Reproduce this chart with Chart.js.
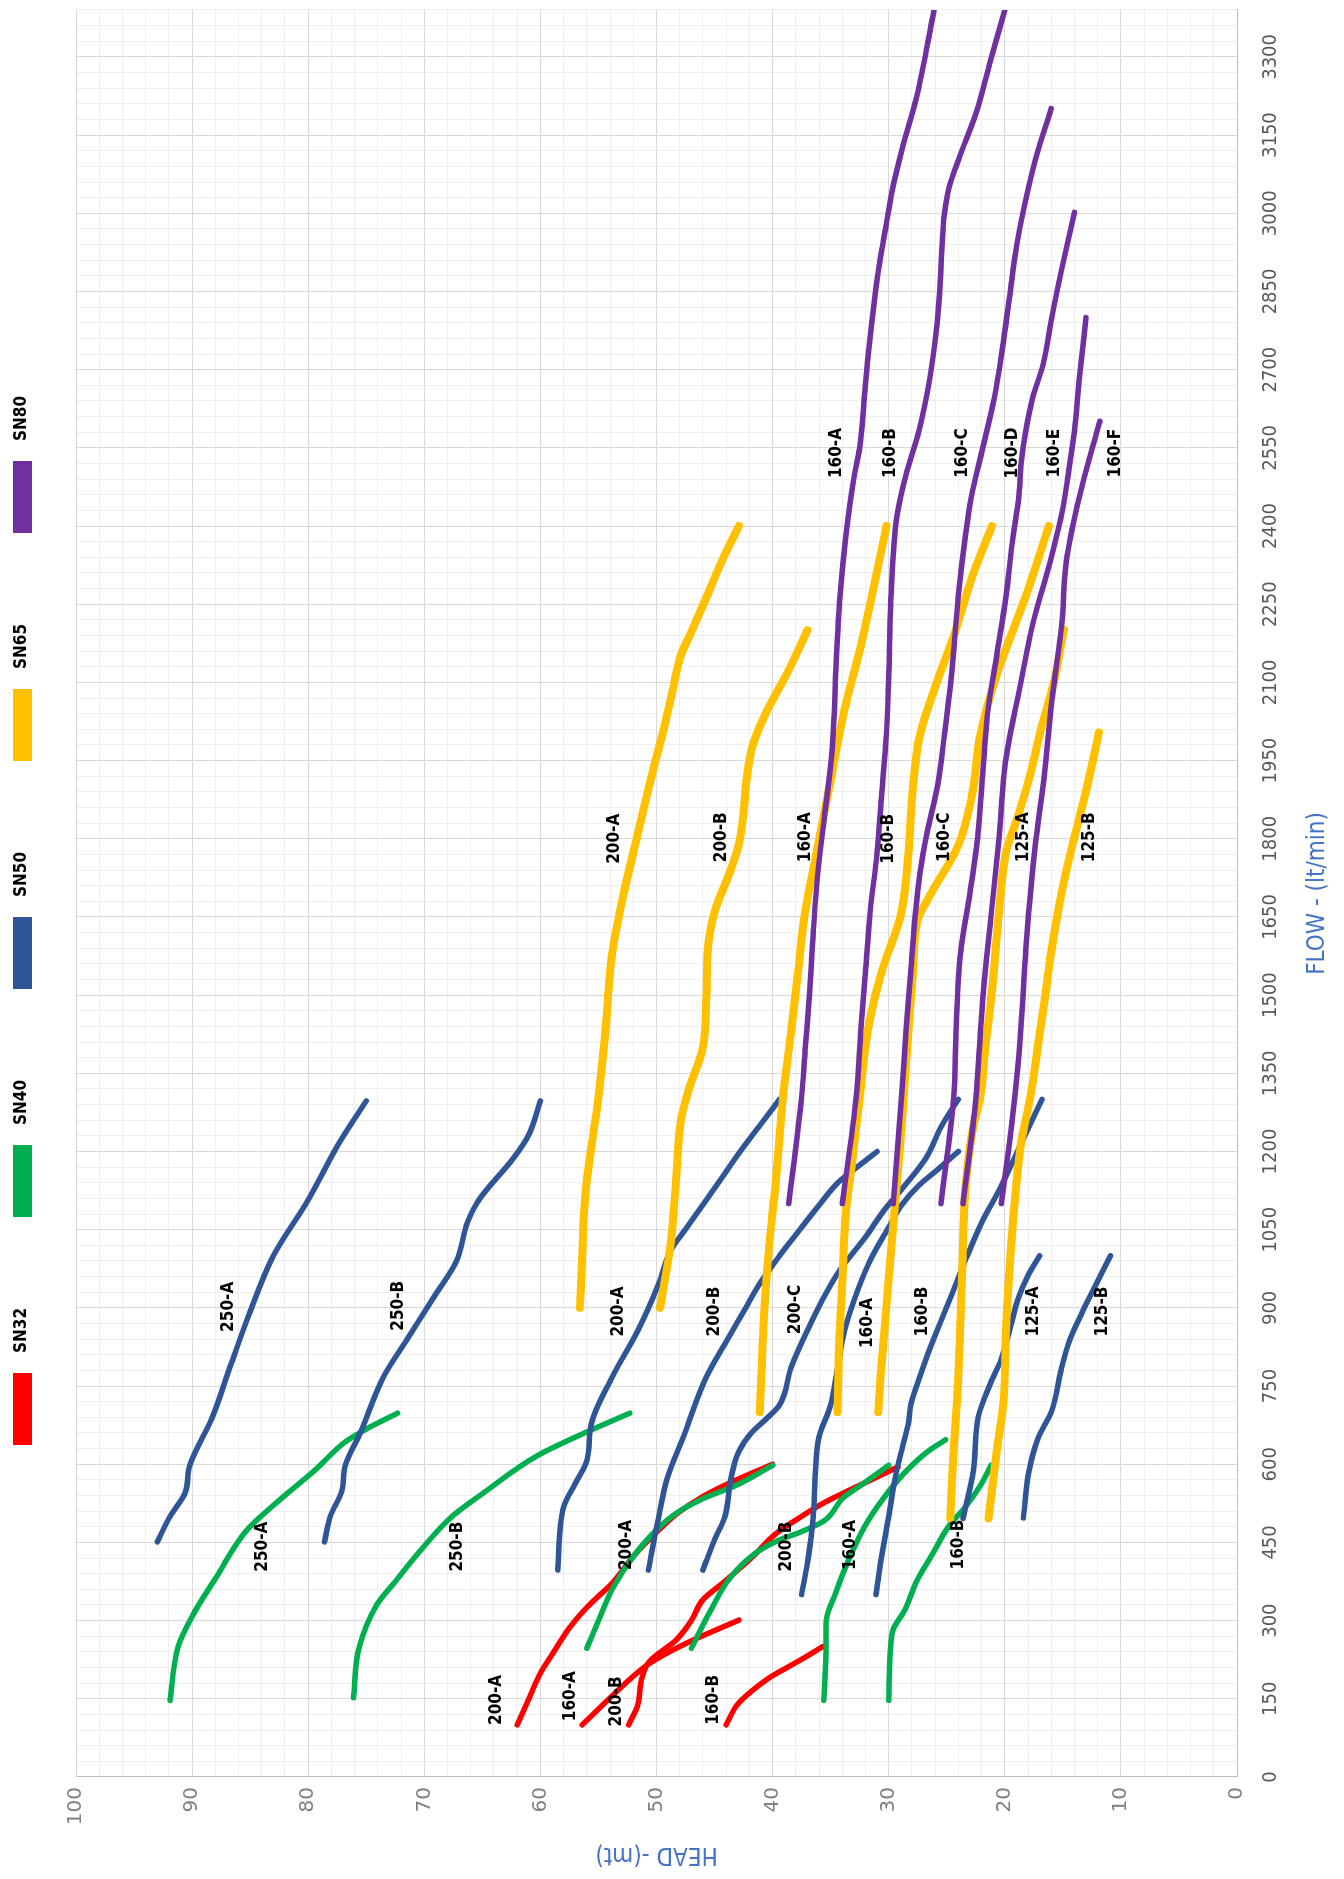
<!DOCTYPE html>
<html>
<head>
<meta charset="utf-8">
<title>Pump curves</title>
<script src="https://cdn.jsdelivr.net/npm/chart.js@4.4.1/dist/chart.umd.min.js"></script>
<style>
    html, body { margin: 0; padding: 0; background: #fff; width: 1344px; height: 1879px; overflow: hidden; }
    /* the sheet is printed sideways: draw landscape, then turn it a quarter left */
    #wrap { position: absolute; left: 0; top: 0; width: 1879px; height: 1344px;
            transform-origin: 0 0; transform: translate(0, 1879px) rotate(-90deg); }
</style>
</head>
<body>
<div id="wrap"><canvas id="pumpCurves" width="1879" height="1344"></canvas></div>
<script>
// [flow lt/min, head m]
// SN32
const sn32_200A = [[100,62],[155,60.9],[199,60],[238,58.9],[289,57.4],[330,55.8],[372,53.8],[423,52],[474,49.8],[506,48.2],[538,46],[563,43.8],[600,40]];
const sn32_160A = [[100,56.4],[139,54.6],[171,53.1],[218,50.6],[257,47.4],[301,42.9]];
const sn32_200B = [[100,52.4],[139,51.6],[186,51.3],[222,50.6],[263,48.3],[300,47],[340,46],[372,44.3],[423,41.7],[467,39.7],[500,37.5],[527,35.5],[547,33.7],[567,31.8],[595,29.2]];
const sn32_160B = [[100,44],[140,43],[165,41.8],[190,40.3],[212,38.6],[231,37.1],[250,35.7]];
// SN40
const sn40_250A = [[147,91.9],[250,91.2],[312,89.9],[384,87.9],[473,85.3],[527,82.7],[589,79.4],[643,76.8],[670,74.8],[698,72.3]];
const sn40_250B = [[152,76.1],[250,75.6],[330,74.1],[375,72.5],[438,70.2],[500,67.6],[545,64.9],[616,60.3],[665,55.7],[698,52.3]];
const sn40_200A = [[247,56],[300,55],[365,53.7],[423,52],[474,50],[506,48.3],[534,46],[560,43.1],[598,40]];
const sn40_200B = [[247,47],[321,45.3],[384,43.6],[429,41.5],[455,39.4],[469,37.7],[491,35.6],[536,33.9],[558,32.5],[598,30]];
const sn40_160A = [[147,35.6],[250,35.4],[295,35.4],[357,34.5],[429,33.2],[491,31.8],[545,30.1],[589,28.4],[625,26.6],[647,25.1]];
const sn40_160B = [[147,30],[277,29.7],[321,28.6],[375,27.6],[429,26.2],[482,24.8],[518,23.4],[563,22],[598,21.2]];
// SN50
const sn50_250A = [[451,93],[500,91.9],[545,90.6],[598,90.2],[688,88.3],[795,86.6],[893,85],[1000,83],[1107,80],[1214,77.4],[1297,75]];
const sn50_250B = [[451,78.6],[500,78.1],[549,77.1],[598,76.8],[661,75.5],[768,73.5],[839,71.5],[920,69.2],[991,67.2],[1063,66.3],[1107,65.3],[1188,62.3],[1232,61],[1297,60]];
const sn50_200A = [[397,58.5],[518,58],[563,57],[607,56],[679,55.6],[768,53.8],[857,51.6],[947,49.8],[1009,48.8],[1054,47.4],[1098,46],[1152,44.3],[1197,42.9],[1250,41.1],[1300,39.4]];
const sn50_200B = [[397,50.7],[500,49.8],[571,49.1],[652,47.7],[768,45.7],[839,43.9],[893,42.5],[947,41.1],[1000,39.4],[1046,37.8],[1097,36],[1142,34.3],[1167,32.9],[1200,31]];
const sn50_200C = [[397,46],[455,45],[500,44.1],[571,43.6],[625,42.9],[661,41.8],[688,40.5],[714,39.4],[786,38.4],[857,37],[920,35.6],[973,34.2],[1036,32],[1087,30.4],[1135,28.6],[1187,26.8],[1251,25.4],[1300,24]];
const sn50_160A = [[350,37.5],[411,37],[500,36.5],[589,36.3],[652,36],[714,35],[786,34.4],[857,33.8],[938,32.6],[1000,31.4],[1058,29.9],[1097,28.9],[1135,27.4],[1167,25.7],[1200,24]];
const sn50_160B = [[350,31.1],[411,30.7],[500,30],[589,29.3],[634,28.8],[679,28.3],[714,28.1],[750,27.6],[813,26.6],[875,25.5],[929,24.5],[991,23.4],[1063,22],[1134,20.3],[1215,18.6],[1300,16.8]];
const sn50_125A = [[496,23.6],[589,22.7],[690,22.3],[757,21.2],[802,20.3],[855,19.6],[915,18.9],[962,18],[1000,17]];
const sn50_125B = [[497,18.4],[589,17.9],[652,17.1],[700,16],[786,15.1],[839,14.4],[893,13.3],[938,12.3],[1000,10.9]];
// SN65
const sn65_200A = [[900,56.6],[1000,56.4],[1125,56.1],[1305,55],[1432,54.4],[1583,53.8],[1697,52.8],[1811,51.6],[1932,50.3],[2000,49.5],[2076,48.7],[2152,47.9],[2197,47],[2258,45.8],[2341,44.2],[2400,42.9]];
const sn65_200B = [[900,49.7],[1020,48.8],[1150,48.3],[1260,47.9],[1320,47.2],[1400,46],[1500,45.7],[1580,45.6],[1660,45],[1735,43.7],[1790,42.9],[1850,42.5],[1920,42.2],[1980,41.7],[2045,40.5],[2115,38.8],[2200,37]];
const sn65_160A = [[700,41.1],[857,40.8],[1018,40.3],[1125,39.8],[1304,39.1],[1432,38.4],[1545,37.8],[1659,37.2],[1765,36.3],[1901,35.1],[2038,33.9],[2189,32.2],[2400,30.2]];
const sn65_160B = [[700,34.4],[813,34.3],[947,34],[1080,33.7],[1170,33.2],[1304,32.5],[1432,31.8],[1545,30.6],[1659,28.9],[1773,28.3],[1901,27.9],[2000,27.3],[2091,26],[2189,24.4],[2303,22.8],[2400,21.1]];
const sn65_160C = [[700,30.9],[768,30.7],[902,30.2],[1036,29.7],[1215,29],[1305,28.7],[1432,28.3],[1545,27.9],[1644,27.5],[1689,26.5],[1788,24],[1886,22.8],[2000,22.1],[2114,20.7],[2265,18.2],[2400,16.2]];
const sn65_125A = [[496,24.7],[589,24.5],[768,24],[947,23.7],[1125,23.4],[1250,22.7],[1305,22.1],[1394,21.7],[1508,21.1],[1659,20.5],[1773,19.9],[1848,18.8],[1924,17.8],[2000,17],[2098,15.8],[2201,14.9]];
const sn65_125B = [[496,21.4],[625,20.7],[723,20.1],[857,19.9],[1036,19.4],[1215,18.6],[1305,17.8],[1394,17.2],[1485,16.6],[1583,16],[1697,15.1],[1795,14.1],[1901,12.9],[2004,11.9]];
// SN80
const sn80_160A = [[1100,38.6],[1305,37.5],[1394,37.2],[1508,36.8],[1621,36.5],[1735,36.1],[1848,35.5],[1962,34.9],[2038,34.7],[2152,34.5],[2265,34.2],[2379,33.7],[2492,33],[2550,32.5],[2646,32.1],[2742,31.7],[2838,31.2],[2903,30.8],[2980,30.2],[3044,29.7],[3127,28.8],[3223,27.6],[3390,26.1]];
const sn80_160B = [[1100,34],[1305,32.8],[1432,32.4],[1545,32],[1659,31.6],[1773,31],[1886,30.6],[2000,30.2],[2114,30],[2265,29.8],[2417,29.3],[2499,28.5],[2582,27.4],[2678,26.5],[2774,25.9],[2851,25.6],[2935,25.4],[2999,25.2],[3050,24.8],[3108,23.9],[3191,22.5],[3287,21.3],[3390,20]];
const sn80_160C = [[1100,29.6],[1305,28.9],[1432,28.5],[1545,28.1],[1659,27.7],[1735,27.3],[1811,26.7],[1901,25.8],[2000,25.2],[2114,24.6],[2265,24],[2379,23.4],[2454,22.9],[2550,21.9],[2646,20.9],[2742,20.2],[2838,19.6],[2935,19],[3005,18.4],[3108,17.3],[3201,16]];
const sn80_160D = [[1100,25.5],[1305,24.4],[1432,24.2],[1583,23.8],[1697,23],[1811,22.3],[1924,21.9],[2038,21.5],[2152,20.7],[2265,19.9],[2379,19.3],[2454,18.8],[2518,18.6],[2582,18.2],[2646,17.6],[2710,16.7],[2806,15.9],[2903,15],[3002,14]];
const sn80_160E = [[1100,23.6],[1300,22.5],[1494,21.9],[1650,21.2],[1800,20.5],[1954,19.9],[2091,18.7],[2211,17.6],[2331,16.1],[2434,15],[2490,14.6],[2582,14],[2678,13.6],[2800,13]];
const sn80_160F = [[1100,20.3],[1217,19.6],[1337,19],[1440,18.6],[1611,18.1],[1783,17.4],[1920,16.6],[2074,15.9],[2211,15.1],[2331,14.7],[2454,13.6],[2531,12.7],[2601,11.8]];

// curve names written on the sheet: [text, flow, head]
const sn32Labels = [['200-A',148,63.8],['160-A',155,57.4],['200-B',145,53.4],['160-B',148,45.1]];
const sn40Labels = [['250-A',442,83.9],['250-B',442,67.1],['200-A',445,52.6],['200-B',442,38.8],['160-A',445,33.3],['160-B',446,24]];
const sn50Labels = [['250-A',902,86.9],['250-B',904,72.2],['200-A',893,53.3],['200-B',893,45],['200-C',897,38],['160-A',871,31.8],['160-B',893,27.1],['125-A',893,17.5],['125-B',893,11.6]];
const sn65Labels = [['200-A',1800,53.6],['200-B',1803,44.4],['160-A',1803,37.2],['160-B',1800,30],['160-C',1803,25.2],['125-A',1803,18.4],['125-B',1803,12.7]];
const sn80Labels = [['160-A',2540,34.5],['160-B',2540,29.8],['160-C',2540,23.6],['160-D',2540,19.3],['160-E',2540,15.7],['160-F',2540,10.5]];

const groups = ['SN32', 'SN40', 'SN50', 'SN65', 'SN80'];
const flowMax = 3390;

document.addEventListener('DOMContentLoaded', function () {
    const ctx = document.getElementById('pumpCurves').getContext('2d');
    const narrow = "'Liberation Sans Narrow', 'DejaVu Sans Condensed', 'Arial Narrow', sans-serif";

    const groupColors = ['#FF0000', '#00B050', '#2F5597', '#FFC000', '#7030A0'];
    const groupCurves = [
        [sn32_200A, sn32_160A, sn32_200B, sn32_160B],
        [sn40_250A, sn40_250B, sn40_200A, sn40_200B, sn40_160A, sn40_160B],
        [sn50_250A, sn50_250B, sn50_200A, sn50_200B, sn50_200C, sn50_160A, sn50_160B, sn50_125A, sn50_125B],
        [sn65_200A, sn65_200B, sn65_160A, sn65_160B, sn65_160C, sn65_125A, sn65_125B],
        [sn80_160A, sn80_160B, sn80_160C, sn80_160D, sn80_160E, sn80_160F]
    ];
    const allLabels = [].concat(sn32Labels, sn40Labels, sn50Labels, sn65Labels, sn80Labels);

    const datasets = [];
    groupCurves.forEach((curves, g) => {
        curves.forEach(points => {
            datasets.push({
                label: groups[g],
                data: points,
                showLine: true,
                borderColor: groupColors[g],
                backgroundColor: groupColors[g],
                borderWidth: g === 3 ? 8 : 5.5,
                borderCapStyle: 'round',
                borderJoinStyle: 'round',
                pointRadius: 0,
                cubicInterpolationMode: 'monotone',
                order: 5 - g   // later series sit on top, like the sheet
            });
        });
    });

    // names of the curves, placed through the scales
    const curveLabels = {
        id: 'curveLabels',
        afterDatasetsDraw(chart) {
            const c = chart.ctx;
            const x = chart.scales.x, y = chart.scales.y;
            c.save();
            c.font = 'bold 17px ' + narrow;
            c.fillStyle = '#000';
            c.textAlign = 'center';
            c.textBaseline = 'middle';
            allLabels.forEach(([text, flow, head]) => {
                c.fillText(text, x.getPixelForValue(flow), y.getPixelForValue(head));
            });
            c.restore();
        }
    };

    // wide spaced legend row above the plot
    const seriesLegend = {
        id: 'seriesLegend',
        afterDraw(chart) {
            const c = chart.ctx;
            let left = chart.chartArea.left + 332;
            c.save();
            c.font = 'bold 17px ' + narrow;
            c.textBaseline = 'middle';
            groups.forEach((name, i) => {
                c.fillStyle = groupColors[i];
                c.fillRect(left, 13, 72, 19);
                c.fillStyle = '#000';
                c.fillText(name, left + 92, 22);
                left += 228;
            });
            c.restore();
        }
    };

    const minorGrid = major => ctx => (ctx.tick.value % major === 0 ? 'rgba(0,0,0,0)' : '#efefef');

    const options = {
        responsive: false,
        animation: false,
        layout: { padding: { top: 76, right: 10, left: 0, bottom: 0 } },
        plugins: {
            legend: { display: false },
            tooltip: { enabled: false }
        },
        scales: {
            xMinor: {
                type: 'linear', position: 'bottom', min: 0, max: flowMax,
                ticks: { display: false, stepSize: 30, includeBounds: false },
                grid: { color: minorGrid(150), drawTicks: false },
                border: { display: false },
                afterFit: s => { s.height = 0; }
            },
            yMinor: {
                type: 'linear', position: 'left', min: 0, max: 100,
                ticks: { display: false, stepSize: 2 },
                grid: { color: minorGrid(10), drawTicks: false },
                border: { display: false },
                afterFit: s => { s.width = 0; }
            },
            x: {
                type: 'linear', position: 'bottom', min: 0, max: flowMax,
                ticks: {
                    stepSize: 150, includeBounds: false, autoSkip: false, maxRotation: 0,
                    padding: 22, color: '#595959', font: { family: narrow, size: 20 },
                    callback: value => String(value)
                },
                grid: { color: '#d9d9d9', drawTicks: false },
                border: { color: '#bfbfbf' },
                title: {
                    display: true, text: 'FLOW - (lt/min)', color: '#4472C4',
                    font: { family: narrow, size: 24 }, padding: { top: 0, bottom: 12 }
                },
                afterFit: s => { s.height = 107; }
            },
            y: {
                type: 'linear', position: 'left', min: 0, max: 100,
                ticks: {
                    stepSize: 10, padding: 10, color: '#7f7f7f',
                    font: { family: "'DejaVu Sans', sans-serif", size: 20 }
                },
                grid: { color: '#d9d9d9', drawTicks: false },
                border: { color: '#bfbfbf' },
                title: {
                    display: true, text: 'HEAD -(mt)', color: '#4472C4',
                    font: { family: narrow, size: 24 }, padding: { top: 10, bottom: 0 }
                },
                afterFit: s => { s.width = 102; }
            }
        }
    };

    new Chart(ctx, {
        type: 'scatter',
        data: { datasets: datasets },
        options: options,
        plugins: [curveLabels, seriesLegend]
    });
});
</script>
</body>
</html>
